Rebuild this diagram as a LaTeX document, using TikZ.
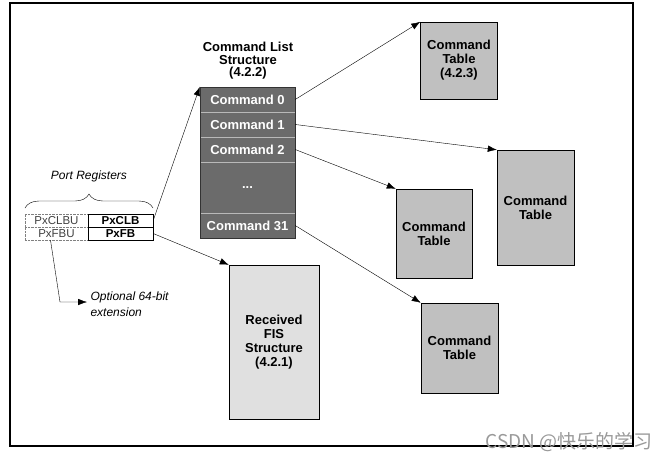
\documentclass[tikz,border=0pt]{standalone}
\usepackage{fontspec}
\setmainfont{Liberation Sans}
\newfontfamily\cjk{Noto Sans CJK SC}
\usetikzlibrary{arrows.meta,decorations.pathreplacing}
\definecolor{cmdgray}{HTML}{6B6B6B}
\definecolor{tblgray}{HTML}{C0C0C0}
\definecolor{fisgray}{HTML}{E0E0E0}
\begin{document}
\begin{tikzpicture}[x=1pt, y=-1pt,
		cmd/.style={rectangle, draw=gray!55, fill=cmdgray, text=white, minimum width=95pt, minimum height=25pt, inner sep=0pt, font=\fontsize{13}{14}\selectfont\bfseries},
		tbl/.style={rectangle, draw, fill=tblgray, align=center, minimum width=77pt, inner sep=0pt, font=\fontsize{13}{14}\selectfont\bfseries},
		reg/.style={rectangle, draw, minimum width=65pt, minimum height=13pt, inner sep=0pt, font=\fontsize{11.5}{12}\selectfont\bfseries},
		regu/.style={rectangle, draw=gray, densely dotted, minimum width=63pt, minimum height=13pt, inner sep=0pt, text=black!75, font=\fontsize{11.5}{12}\selectfont},
		arr/.style={-{Latex[length=9pt,width=6.5pt]}}]
			\useasboundingbox (0,0) rectangle (665,464);
			\draw[line width=1.1pt] (10,3) rectangle (633,446);

			% command list
			\node[align=center, font=\fontsize{13}{12.5}\selectfont\bfseries] (title) at (248,61) {Command List\\Structure\\(4.2.2)};
			\node[cmd] (c0) at (247.5,99.5) {Command 0};
			\node[cmd] (c1) at (247.5,124.5) {Command 1};
			\node[cmd] (c2) at (247.5,149.5) {Command 2};
			\node[cmd, minimum height=51pt] (dots) at (247.5,187.5) {...};
			\node[cmd] (c31) at (247.5,225.5) {Command 31};
			\draw[black!80] (c0.north west) rectangle (c31.south east);

			% tables
			\node[tbl, minimum height=77pt] (t0) at (459,60.5) {Command\\Table\\(4.2.3)};
			\node[tbl, minimum height=115pt] (t1) at (535.5,207.5) {Command\\Table};
			\node[tbl, minimum width=76pt, minimum height=89pt] (t2) at (434,233.5) {Command\\Table};
			\node[tbl, minimum height=90pt] (t3) at (459.5,348) {Command\\Table};
			\node[tbl, fill=fisgray, minimum width=90pt, minimum height=154pt] (fis) at (274,342) {Received\\FIS\\Structure\\(4.2.1)};

			% port registers
			\node[regu] (r1u) at (56.5,220.5) {PxCLBU};
			\node[regu] (r2u) at (56.5,233.5) {PxFBU};
			\node[reg] (r1) at (120.5,220.5) {PxCLB};
			\node[reg] (r2) at (120.5,233.5) {PxFB};
			\draw[decorate, decoration={brace, amplitude=14pt}] (25,208) -- (153,208);
			\node[font=\fontsize{12}{14}\selectfont\itshape] (port) at (89,176) {Port Registers};
			\node[anchor=west, align=left, font=\fontsize{12}{16}\selectfont\itshape] (opt) at (87,304) {Optional 64-bit\\extension};
			\coordinate (bend) at (60,302);

			\draw[arr] (r1.east) -- (c0.north west);
			\draw[arr] (r2.east) -- (fis.north west);
			\draw[arr] ([xshift=-6pt]r2u.south) -- (bend) -- (bend -| opt.west);
			\draw[arr] (c0.east) -- (t0.north west);
			\draw[arr] (c1.east) -- (t1.north west);
			\draw[arr] (c2.east) -- (t2.north west);
			\draw[arr] (c31.east) -- (t3.north west);

			\node[text=black!40, font=\cjk\fontsize{19}{20}\selectfont] (mark) at (569,442) {CSDN @快乐的学习};
		\end{tikzpicture}
\end{document}
